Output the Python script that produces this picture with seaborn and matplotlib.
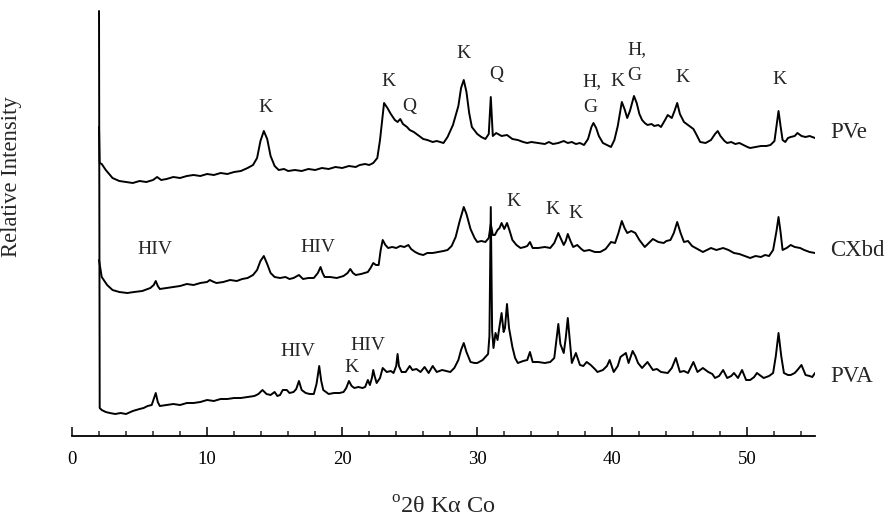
#XRD patterns of the three samples, stacked with an offset, peaks labelled by mineral
import numpy as np
import pandas as pd
import matplotlib.pyplot as plt
import seaborn as sns
from matplotlib.ticker import MultipleLocator

#2theta positions and stacked relative intensities
pve_x = [2.0, 2.05, 2.2, 2.5, 3.0, 3.5, 4.0, 4.5, 5.0, 5.5,
         6.0, 6.3, 6.6, 7.0, 7.5, 8.0, 8.5, 9.0, 9.5, 10.0,
         10.5, 11.0, 11.5, 12.0, 12.5, 13.0, 13.4, 13.7, 13.95, 14.2,
         14.45, 14.7, 15.0, 15.3, 15.7, 16.0, 16.5, 17.0, 17.5, 18.0,
         18.5, 19.0, 19.5, 20.0, 20.5, 21.0, 21.3, 21.7, 22.0, 22.3,
         22.6, 22.8, 23.1, 23.35, 23.6, 23.9, 24.1, 24.3, 24.5, 24.8,
         25.0, 25.3, 25.6, 26.0, 26.3, 26.7, 27.0, 27.5, 27.8, 28.2,
         28.6, 28.8, 29.0, 29.2, 29.4, 29.6, 30.0, 30.3, 30.6, 30.85,
         31.0, 31.15, 31.4, 31.8, 32.2, 32.6, 33.0, 33.4, 33.7, 34.0,
         34.5, 35.0, 35.3, 35.6, 36.0, 36.4, 36.7, 37.0, 37.3, 37.6,
         37.9, 38.2, 38.45, 38.6, 38.8, 39.0, 39.3, 39.6, 39.9, 40.15,
         40.4, 40.7, 40.9, 41.1, 41.3, 41.6, 41.8, 42.0, 42.2, 42.4,
         42.6, 42.9, 43.1, 43.4, 43.6, 43.9, 44.1, 44.4, 44.6, 44.8,
         45.0, 45.3, 45.6, 46.0, 46.2, 46.5, 46.9, 47.3, 47.6, 47.8,
         48.0, 48.3, 48.5, 48.8, 49.1, 49.4, 49.7, 50.0, 50.2, 50.6,
         51.0, 51.4, 51.7, 52.0, 52.15, 52.3, 52.45, 52.6, 52.8, 53.0,
         53.2, 53.5, 53.7, 54.0, 54.3, 54.6, 55.0]
pve_y = [309, 273, 272, 266, 258, 255, 254, 253, 255, 254,
         256, 259, 256, 257, 259, 258, 260, 261, 260, 262,
         261, 263, 262, 264, 265, 268, 271, 278, 295, 305,
         297, 280, 270, 266, 267, 265, 266, 265, 267, 266,
         268, 267, 269, 268, 270, 269, 271, 272, 271, 273,
         278, 296, 333, 328, 322, 316, 314, 317, 312, 309,
         306, 304, 301, 297, 296, 294, 295, 293, 299, 311,
         330, 348, 356, 344, 323, 309, 302, 299, 297, 302,
         339, 300, 303, 300, 301, 297, 296, 294, 293, 294,
         293, 292, 294, 292, 293, 295, 293, 294, 292, 293,
         291, 297, 309, 313, 308, 300, 293, 291, 289, 296,
         310, 334, 327, 318, 325, 340, 333, 322, 316, 313,
         311, 312, 310, 311, 309, 316, 321, 318, 325, 333,
         322, 314, 311, 307, 302, 294, 293, 296, 302, 305,
         300, 295, 293, 294, 292, 293, 291, 289, 288, 289,
         290, 290, 291, 295, 310, 325, 310, 296, 294, 298,
         299, 300, 303, 300, 299, 300, 298]

cxbd_x = [2.0, 2.2, 2.6, 3.0, 3.5, 4.1, 4.6, 5.2, 5.8, 6.05,
          6.2, 6.35, 6.5, 7.0, 7.5, 8.0, 8.5, 9.0, 9.5, 10.0,
          10.2, 10.5, 10.7, 11.2, 11.7, 12.2, 12.6, 13.0, 13.4, 13.7,
          13.95, 14.2, 14.45, 14.7, 15.0, 15.4, 15.8, 16.1, 16.4, 16.8,
          17.1, 17.5, 17.9, 18.2, 18.4, 18.55, 18.7, 19.1, 19.6, 20.1,
          20.4, 20.6, 20.8, 21.0, 21.4, 21.9, 22.1, 22.3, 22.5, 22.7,
          22.85, 23.0, 23.2, 23.4, 23.7, 24.0, 24.3, 24.6, 24.9, 25.1,
          25.4, 25.7, 26.0, 26.3, 26.7, 27.1, 27.5, 27.8, 28.1, 28.4,
          28.7, 29.0, 29.2, 29.5, 29.8, 30.0, 30.3, 30.6, 30.85, 31.0,
          31.15, 31.3, 31.5, 31.65, 31.8, 32.0, 32.2, 32.4, 32.6, 32.9,
          33.2, 33.5, 33.7, 33.9, 34.1, 34.5, 35.0, 35.4, 35.7, 36.0,
          36.2, 36.4, 36.55, 36.7, 36.9, 37.1, 37.4, 37.7, 37.9, 38.3,
          38.7, 39.1, 39.5, 39.9, 40.2, 40.45, 40.7, 40.9, 41.1, 41.4,
          41.7, 42.0, 42.4, 42.7, 43.0, 43.4, 43.8, 44.0, 44.3, 44.55,
          44.8, 45.05, 45.3, 45.6, 45.9, 46.3, 46.7, 47.0, 47.3, 47.7,
          48.2, 48.6, 49.0, 49.4, 49.8, 50.2, 50.6, 51.0, 51.3, 51.6,
          51.9, 52.15, 52.3, 52.45, 52.6, 52.9, 53.2, 53.5, 53.9, 54.2,
          54.6, 55.0]
cxbd_y = [176, 159, 151, 146, 144, 143, 144, 145, 148, 151,
          155, 150, 147, 148, 149, 150, 152, 151, 153, 154,
          156, 154, 153, 154, 156, 155, 157, 158, 161, 166,
          175, 180, 172, 163, 159, 158, 159, 157, 158, 161,
          157, 158, 158, 163, 169, 163, 159, 159, 158, 160,
          163, 167, 163, 161, 162, 164, 168, 173, 171, 171,
          186, 196, 191, 188, 189, 188, 190, 189, 191, 187,
          184, 182, 181, 183, 183, 184, 185, 186, 190, 199,
          215, 229, 222, 207, 198, 194, 195, 194, 198, 212,
          201, 201, 206, 208, 213, 207, 213, 205, 196, 191,
          188, 189, 190, 194, 188, 188, 189, 188, 193, 203,
          197, 191, 195, 202, 195, 189, 191, 187, 185, 186,
          184, 184, 187, 194, 193, 203, 215, 208, 203, 205,
          203, 196, 189, 193, 197, 194, 193, 195, 196, 203,
          214, 203, 194, 195, 190, 187, 184, 186, 188, 186,
          188, 186, 183, 182, 180, 178, 180, 179, 181, 180,
          186, 205, 219, 204, 186, 188, 191, 189, 188, 186,
          184, 183]

pva_x = [2.0, 2.05, 2.2, 2.5, 2.8, 3.2, 3.6, 4.0, 4.5, 5.0,
         5.3, 5.6, 5.9, 6.05, 6.2, 6.35, 6.5, 7.0, 7.5, 8.0,
         8.5, 9.0, 9.5, 10.0, 10.5, 11.0, 11.5, 12.0, 12.5, 13.0,
         13.5, 13.8, 14.1, 14.4, 14.7, 15.0, 15.2, 15.4, 15.6, 15.9,
         16.1, 16.4, 16.6, 16.8, 17.0, 17.3, 17.6, 17.9, 18.1, 18.3,
         18.45, 18.6, 19.0, 19.4, 19.8, 20.1, 20.3, 20.5, 20.7, 20.9,
         21.2, 21.5, 21.7, 21.9, 22.05, 22.2, 22.3, 22.4, 22.55, 22.8,
         23.0, 23.3, 23.6, 23.8, 24.0, 24.1, 24.2, 24.4, 24.7, 25.0,
         25.2, 25.5, 25.8, 26.1, 26.4, 26.7, 27.0, 27.4, 27.7, 28.0,
         28.3, 28.6, 28.8, 29.0, 29.2, 29.5, 29.8, 30.0, 30.4, 30.8,
         30.9, 31.0, 31.1, 31.2, 31.35, 31.5, 31.65, 31.8, 31.95, 32.05,
         32.2, 32.35, 32.6, 32.8, 33.0, 33.4, 33.7, 33.9, 34.1, 34.5,
         35.0, 35.4, 35.7, 35.85, 36.0, 36.15, 36.4, 36.55, 36.7, 36.85,
         37.0, 37.3, 37.6, 37.85, 38.1, 38.4, 38.7, 38.9, 39.3, 39.6,
         39.8, 40.1, 40.4, 40.6, 41.0, 41.2, 41.5, 41.7, 41.9, 42.2,
         42.6, 42.8, 43.0, 43.3, 43.6, 44.1, 44.4, 44.7, 45.0, 45.3,
         45.6, 46.0, 46.3, 46.7, 47.1, 47.4, 47.6, 47.9, 48.2, 48.5,
         48.8, 49.0, 49.3, 49.6, 49.9, 50.2, 50.5, 50.7, 51.0, 51.2,
         51.6, 51.9, 52.1, 52.3, 52.5, 52.7, 53.0, 53.2, 53.5, 53.7,
         54.0, 54.3, 54.6, 54.8, 55.0]
pva_y = [425, 28, 26, 24, 23, 22, 23, 22, 25, 27,
         28, 30, 31, 37, 43, 34, 30, 31, 32, 31,
         33, 33, 34, 36, 35, 37, 37, 38, 38, 39,
         40, 42, 46, 42, 41, 44, 40, 41, 46, 46,
         43, 44, 47, 55, 46, 43, 42, 42, 52, 70,
         55, 46, 42, 43, 43, 44, 48, 55, 50, 48,
         49, 48, 49, 56, 51, 58, 66, 60, 53, 58,
         68, 64, 65, 63, 70, 82, 70, 64, 64, 70,
         66, 67, 64, 69, 63, 70, 64, 66, 65, 64,
         68, 76, 86, 93, 84, 74, 73, 73, 76, 82,
         100, 229, 105, 88, 103, 96, 110, 123, 104, 108,
         132, 108, 89, 78, 73, 75, 76, 84, 74, 74,
         73, 74, 78, 95, 112, 92, 83, 98, 118, 95,
         73, 83, 71, 70, 74, 71, 67, 64, 66, 70,
         76, 64, 70, 79, 83, 73, 85, 80, 73, 68,
         74, 70, 66, 67, 64, 63, 68, 78, 64, 65,
         63, 74, 64, 68, 64, 62, 58, 60, 66, 58,
         60, 63, 58, 66, 56, 56, 59, 63, 60, 58,
         60, 63, 80, 103, 80, 63, 61, 61, 63, 66,
         71, 61, 60, 59, 63]

samples = ["PVe", "CXbd", "PVA"]

#peak labels: text, 2theta, height
pve_peaks = [("K", 14.3, 328), ("K", 23.4, 354), ("Q", 25.0, 329), ("K", 29.0, 383),
             ("Q", 31.4, 361), ("H,", 38.5, 354), ("G", 38.4, 329), ("K", 40.4, 354),
             ("H,", 41.8, 386), ("G", 41.6, 361), ("K", 45.2, 359), ("K", 52.4, 356)]
cxbd_peaks = [("HIV", 6.15, 186), ("HIV", 18.2, 189), ("K", 32.7, 234),
              ("K", 35.6, 226), ("K", 37.3, 223)]
pva_peaks = [("HIV", 16.7, 84), ("K", 20.7, 68), ("HIV", 21.9, 91)]

#sample name heights at the right end
name_y = [303, 185, 60]

df = pd.concat([
    pd.DataFrame({"two_theta": pve_x, "intensity": pve_y, "sample": "PVe"}),
    pd.DataFrame({"two_theta": cxbd_x, "intensity": cxbd_y, "sample": "CXbd"}),
    pd.DataFrame({"two_theta": pva_x, "intensity": pva_y, "sample": "PVA"}),
], ignore_index=True)

sns.set_theme(style="white")
plt.rcParams["font.family"] = ["Liberation Serif", "DejaVu Serif"]
plt.rcParams["mathtext.fontset"] = "custom"
plt.rcParams["mathtext.rm"] = "Liberation Serif"

fig = plt.figure(figsize=(8.87, 5.22), dpi=100)
ax = fig.add_axes([72 / 887, 86 / 522, 743 / 887, 436 / 522])

sns.lineplot(data=df, x="two_theta", y="intensity", hue="sample",
             palette={s: "black" for s in samples}, estimator=None, sort=False,
             legend=False, linewidth=1.4, ax=ax)

for peaks in [pve_peaks, cxbd_peaks, pva_peaks]:
    for txt, px, py in peaks:
        ax.text(px, py, txt, ha="center", va="center", fontsize=14)

for name, ny in zip(samples, name_y):
    ax.text(56.1, ny, name, ha="left", va="center", fontsize=16.5, clip_on=False)

ax.set_xlim(0, 55)
ax.set_ylim(0, 436)
for side in ["top", "right", "left"]:
    ax.spines[side].set_visible(False)
ax.spines["bottom"].set_color("black")
ax.spines["bottom"].set_linewidth(1.3)

ax.xaxis.set_major_locator(MultipleLocator(10))
ax.xaxis.set_minor_locator(MultipleLocator(2))
ax.tick_params(axis="x", which="major", direction="in", length=6.3, width=1.1,
               labelsize=13.5, pad=10.5, colors="black", bottom=True)
ax.tick_params(axis="x", which="minor", direction="in", length=3.3, width=1.1, bottom=True)
ax.set_yticks([])

ax.set_xlabel("$^{\\mathrm{o}}$2θ Kα Co", fontsize=17.5, labelpad=21)
ax.set_ylabel("Relative Intensity", fontsize=16.3)
ax.yaxis.set_label_coords(-0.067, 0.596)

fig.savefig("out.png", dpi=100)
